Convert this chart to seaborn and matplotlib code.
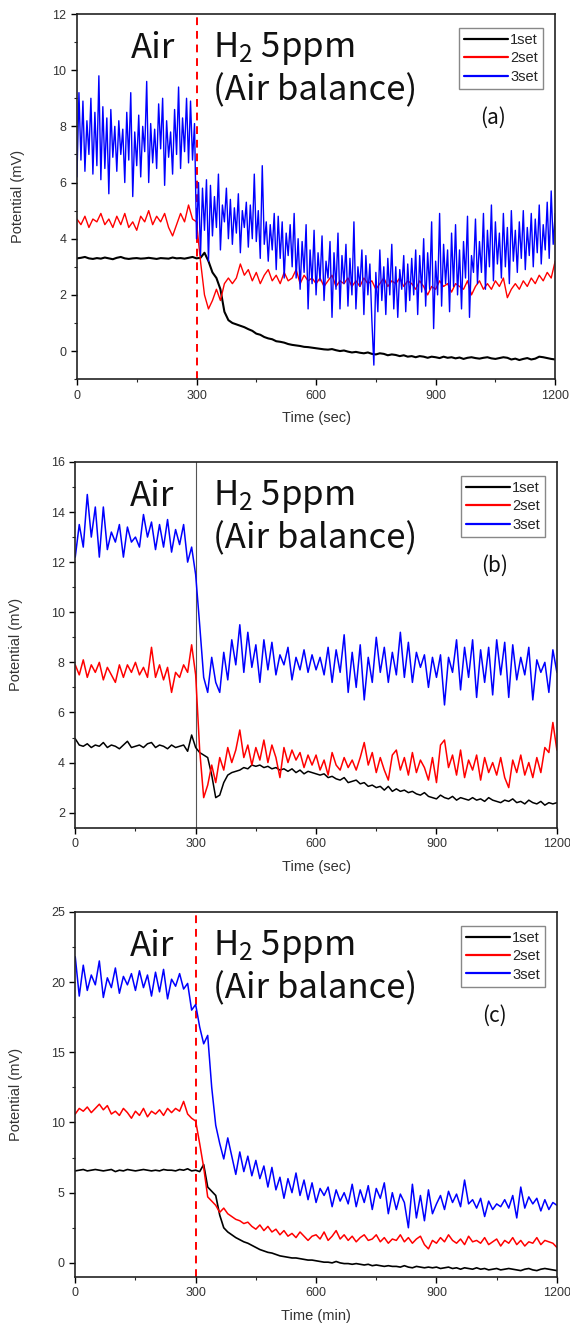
import numpy as np
import pandas as pd
import matplotlib.pyplot as plt
import matplotlib.ticker as mticker
import seaborn as sns

# ── Data ──────────────────────────────────────────────────────────────────────
TIME = np.arange(0, 1201, 10)        # 10 s grid for most series
TIME_FINE = np.arange(0, 1201, 5)    # 5 s grid for the noisy 3set in (a)

A_SET1 = [
    3.30, 3.32, 3.35, 3.30, 3.28, 3.31, 3.29, 3.33, 3.30, 3.27,
    3.32, 3.35, 3.30, 3.28, 3.30, 3.31, 3.29, 3.30, 3.32, 3.30,
    3.28, 3.31, 3.30, 3.29, 3.33, 3.30, 3.31, 3.29, 3.32, 3.35,
    3.30, 3.32, 3.50, 3.20, 2.80, 2.60, 2.20, 1.40, 1.10, 1.00,
    0.95, 0.90, 0.85, 0.78, 0.72, 0.62, 0.58, 0.50, 0.45, 0.42,
    0.35, 0.33, 0.30, 0.25, 0.22, 0.20, 0.18, 0.15, 0.14, 0.12,
    0.10, 0.08, 0.06, 0.05, 0.07, 0.03, 0.00, 0.02, -0.02, -0.05,
    -0.03, -0.06, -0.08, -0.05, -0.10, -0.12, -0.08, -0.10, -0.15, -0.12,
    -0.14, -0.18, -0.15, -0.20, -0.18, -0.22, -0.18, -0.20, -0.24, -0.20,
    -0.22, -0.25, -0.20, -0.24, -0.22, -0.26, -0.23, -0.28, -0.24, -0.22,
    -0.25, -0.27, -0.24, -0.22, -0.26, -0.28, -0.25, -0.22, -0.24, -0.30,
    -0.27, -0.32, -0.28, -0.25, -0.30, -0.27, -0.20, -0.22, -0.25, -0.28,
    -0.30,
]
A_SET2 = [
    4.70, 4.50, 4.80, 4.40, 4.70, 4.60, 4.90, 4.50, 4.70, 4.40,
    4.80, 4.50, 4.90, 4.40, 4.60, 4.30, 4.80, 4.60, 5.00, 4.50,
    4.80, 4.60, 4.90, 4.40, 4.10, 4.50, 4.90, 4.60, 5.20, 4.70,
    4.60, 3.20, 2.00, 1.50, 1.80, 2.20, 1.80, 2.40, 2.60, 2.40,
    2.60, 3.10, 2.70, 2.90, 2.50, 2.80, 2.40, 2.70, 2.90, 2.50,
    2.70, 2.40, 2.80, 2.50, 2.60, 2.90, 2.40, 2.70, 2.50, 2.60,
    2.40, 2.60, 2.30, 2.50, 2.70, 2.30, 2.50, 2.40, 2.60, 2.30,
    2.50, 2.30, 2.60, 2.40, 2.50, 2.20, 2.40, 2.60, 2.30, 2.50,
    2.40, 2.60, 2.30, 2.50, 2.40, 2.20, 2.50, 2.30, 2.00, 2.30,
    2.20, 2.50, 2.30, 2.40, 2.10, 2.40, 2.30, 2.20, 2.50, 2.00,
    2.30, 2.50, 2.20, 2.40, 2.20, 2.50, 2.30, 2.60, 1.90, 2.20,
    2.40, 2.20, 2.50, 2.30, 2.60, 2.40, 2.70, 2.50, 2.80, 2.60,
    3.20,
]
A_SET3 = [
    6.2, 9.2, 6.8, 8.9, 6.4, 8.2, 7.0, 9.0, 6.3, 8.5,
    6.6, 9.8, 6.1, 8.7, 6.5, 8.3, 5.6, 8.6, 6.9, 8.0,
    6.4, 8.2, 7.0, 7.9, 6.0, 8.5, 6.8, 9.2, 5.5, 7.8,
    6.6, 8.4, 6.2, 8.0, 7.1, 9.6, 6.0, 8.1, 6.7, 7.9,
    6.5, 8.8, 7.2, 9.0, 5.9, 8.2, 6.9, 7.8, 6.3, 8.6,
    7.0, 9.4, 6.5, 8.3, 7.1, 9.0, 6.7, 8.9, 6.8, 8.1,
    4.0, 6.0, 3.4, 5.8, 4.3, 6.1, 3.2, 5.9, 4.1, 5.5,
    4.4, 6.3, 3.6, 5.2, 4.6, 5.8, 4.0, 5.4, 3.8, 5.1,
    4.2, 5.6, 3.5, 5.0, 4.4, 5.3, 3.7, 5.2, 4.0, 6.3,
    3.9, 5.0, 3.3, 6.6, 3.8, 4.6, 3.2, 4.5, 3.6, 4.9,
    2.9, 4.8, 3.3, 4.6, 2.6, 4.2, 3.4, 4.5, 3.0, 4.9,
    2.6, 4.0, 2.2, 3.9, 2.8, 4.5, 1.5, 3.6, 2.4, 4.3,
    2.0, 3.5, 2.5, 4.1, 1.8, 3.2, 2.6, 3.9, 1.2, 3.5,
    2.2, 4.2, 1.5, 3.4, 2.4, 3.8, 1.6, 3.3, 2.0, 4.6,
    1.5, 3.0, 2.3, 3.6, 1.3, 3.4, 2.0, 3.1, 1.1, -0.5,
    2.8, 1.4, 3.6, 1.8, 3.0, 1.3, 3.3, 2.0, 3.8, 1.5,
    3.0, 1.2, 2.9, 2.2, 3.4, 1.4, 3.1, 1.8, 3.3, 2.0,
    3.6, 1.3, 3.4, 2.1, 4.0, 1.6, 3.5, 2.2, 4.6, 0.8,
    3.2, 2.0, 4.9, 1.6, 3.8, 2.4, 3.6, 1.4, 4.2, 2.3,
    4.5, 2.0, 3.6, 1.5, 3.9, 2.6, 4.8, 1.2, 3.4, 2.8,
    4.7, 2.4, 3.9, 2.8, 4.9, 2.2, 4.3, 3.0, 5.2, 2.5,
    4.6, 3.1, 4.2, 2.6, 4.9, 3.0, 4.4, 2.4, 5.0, 3.2,
    4.3, 2.8, 4.6, 3.3, 5.0, 2.9, 4.4, 3.4, 4.9, 3.0,
    4.7, 3.5, 5.2, 3.1, 4.5, 3.6, 5.3, 3.3, 5.7, 3.8,
    4.9,
]

B_SET1 = [
    4.95, 4.70, 4.65, 4.75, 4.60, 4.70, 4.65, 4.80, 4.60, 4.70,
    4.65, 4.55, 4.70, 4.85, 4.60, 4.65, 4.70, 4.60, 4.75, 4.80,
    4.60, 4.70, 4.65, 4.55, 4.70, 4.60, 4.65, 4.70, 4.45, 5.10,
    4.60, 4.40, 4.30, 4.20, 3.50, 2.60, 2.70, 3.20, 3.50, 3.60,
    3.65, 3.70, 3.80, 3.75, 3.90, 3.85, 3.90, 3.80, 3.85, 3.75,
    3.80, 3.70, 3.75, 3.65, 3.75, 3.60, 3.70, 3.55, 3.65, 3.60,
    3.55, 3.50, 3.55, 3.40, 3.45, 3.35, 3.30, 3.40, 3.20, 3.25,
    3.30, 3.15, 3.20, 3.05, 3.10, 3.00, 3.05, 2.90, 3.05, 2.85,
    2.95, 2.85, 2.90, 2.80, 2.85, 2.75, 2.70, 2.80, 2.65, 2.60,
    2.55, 2.70, 2.60, 2.55, 2.65, 2.50, 2.60, 2.55, 2.50, 2.60,
    2.50, 2.55, 2.45, 2.60, 2.50, 2.45, 2.40, 2.50, 2.45, 2.55,
    2.40, 2.45, 2.35, 2.50, 2.40, 2.35, 2.45, 2.30, 2.40, 2.35,
    2.40,
]
B_SET2 = [
    7.90, 7.50, 8.10, 7.40, 7.90, 7.60, 8.00, 7.30, 7.80, 7.50,
    7.20, 7.90, 7.40, 7.90, 7.60, 8.00, 7.50, 7.80, 7.40, 8.60,
    7.40, 7.90, 7.30, 7.80, 6.80, 7.60, 7.40, 7.90, 7.60, 8.70,
    7.50, 4.50, 2.60, 3.10, 3.90, 3.20, 4.20, 3.70, 4.60, 4.00,
    4.50, 5.30, 4.20, 4.70, 3.90, 4.60, 4.10, 4.90, 4.00, 4.70,
    4.20, 3.40, 4.60, 4.00, 4.50, 4.10, 4.40, 3.80, 4.30, 3.90,
    4.30, 3.70, 4.10, 3.50, 4.40, 3.90, 3.70, 4.20, 3.80, 4.10,
    3.70, 4.20, 4.80, 3.90, 4.40, 3.60, 4.20, 3.70, 3.30, 4.30,
    4.50, 3.70, 4.20, 3.50, 4.40, 3.60, 4.10, 3.80, 3.30, 4.20,
    3.20, 4.70, 4.90, 3.80, 4.30, 3.50, 4.50, 3.40, 4.10, 3.70,
    4.30, 3.30, 4.20, 3.60, 4.00, 3.50, 4.20, 3.40, 3.00, 4.10,
    3.60, 4.30, 3.50, 4.00, 3.40, 4.20, 3.60, 4.60, 4.40, 5.60,
    4.50,
]
B_SET3 = [
    12.2, 13.5, 12.6, 14.7, 13.0, 14.2, 12.2, 14.2, 12.5, 13.2,
    12.8, 13.5, 12.2, 13.4, 12.8, 13.0, 12.6, 13.9, 13.0, 13.6,
    12.5, 13.5, 12.6, 13.7, 12.4, 13.3, 12.7, 13.5, 12.0, 12.6,
    11.5, 9.5, 7.4, 6.8, 8.2, 7.2, 6.8, 8.4, 7.3, 8.9,
    7.9, 9.5, 7.6, 9.2, 7.8, 8.7, 7.2, 8.9, 7.7, 8.8,
    7.5, 8.3, 7.9, 8.6, 7.3, 8.2, 7.7, 8.5, 7.6, 8.3,
    7.7, 8.2, 7.5, 8.6, 7.2, 8.5, 7.6, 9.1, 6.8, 8.4,
    7.0, 8.7, 6.5, 8.2, 7.2, 9.0, 7.6, 8.6, 7.2, 8.4,
    7.5, 9.2, 7.4, 8.8, 7.2, 8.4, 7.8, 8.3, 7.0, 8.2,
    7.4, 8.3, 6.3, 8.2, 7.6, 8.9, 6.9, 8.6, 7.4, 8.9,
    6.6, 8.5, 7.2, 8.6, 6.7, 8.9, 7.5, 8.8, 6.6, 8.7,
    7.3, 8.2, 7.5, 8.6, 6.5, 8.1, 7.6, 8.0, 6.8, 8.5,
    7.6,
]

C_SET1 = [
    6.55, 6.60, 6.65, 6.55, 6.60, 6.65, 6.60, 6.55, 6.60, 6.65,
    6.50, 6.60, 6.55, 6.65, 6.60, 6.55, 6.60, 6.65, 6.60, 6.55,
    6.60, 6.55, 6.65, 6.60, 6.60, 6.55, 6.65, 6.60, 6.70, 6.55,
    6.60, 6.50, 7.00, 5.40, 5.10, 4.80, 3.40, 2.50, 2.20, 2.00,
    1.80, 1.65, 1.50, 1.40, 1.25, 1.10, 0.95, 0.85, 0.75, 0.70,
    0.60, 0.50, 0.45, 0.40, 0.35, 0.35, 0.30, 0.25, 0.20, 0.20,
    0.15, 0.10, 0.05, 0.05, 0.00, 0.10, 0.00, -0.05, -0.05, -0.10,
    -0.05, -0.10, -0.15, -0.10, -0.20, -0.15, -0.20, -0.25, -0.20, -0.25,
    -0.25, -0.30, -0.20, -0.30, -0.35, -0.25, -0.30, -0.35, -0.30, -0.35,
    -0.30, -0.40, -0.35, -0.30, -0.40, -0.35, -0.45, -0.35, -0.40, -0.45,
    -0.35, -0.45, -0.40, -0.50, -0.45, -0.40, -0.50, -0.45, -0.40, -0.45,
    -0.50, -0.55, -0.45, -0.40, -0.50, -0.55, -0.45, -0.40, -0.45, -0.50,
    -0.55,
]
C_SET2 = [
    10.6, 11.0, 10.8, 11.1, 10.7, 11.0, 11.3, 10.9, 11.2, 10.6,
    10.8, 10.5, 11.0, 10.7, 10.3, 10.8, 10.5, 11.0, 10.4, 10.8,
    10.6, 10.9, 10.5, 11.0, 10.7, 11.0, 10.8, 11.5, 10.6, 10.3,
    10.1, 8.5, 6.8, 4.7, 4.4, 4.1, 3.6, 3.9, 3.5, 3.3,
    3.1, 3.0, 2.8, 2.9, 2.6, 2.4, 2.7, 2.3, 2.6, 2.2,
    2.4, 2.0, 2.3, 1.9, 2.1, 1.8, 2.2, 1.9, 1.6, 1.9,
    2.0, 1.7, 2.2, 1.6, 1.9, 2.3, 1.7, 2.0, 1.6, 1.9,
    1.5, 1.8, 2.0, 1.6, 1.7, 2.0, 1.5, 1.8, 1.4, 1.7,
    1.6, 2.0, 1.5, 1.8, 1.4, 1.7, 1.9, 1.3, 1.0, 1.6,
    1.4, 1.8, 1.5, 2.0, 1.6, 1.4, 1.7, 1.3, 1.9, 1.5,
    1.6, 1.4, 1.8, 1.3, 1.5, 1.7, 1.2, 1.6, 1.4, 1.8,
    1.3, 1.6, 1.2, 1.5, 1.4, 1.8, 1.3, 1.6, 1.5, 1.4,
    1.1,
]
C_SET3 = [
    21.8, 19.0, 21.2, 19.4, 20.5, 19.8, 21.5, 18.9, 20.3, 19.6,
    21.0, 19.2, 20.4, 19.8, 20.6, 19.4, 20.8, 19.6, 20.5, 19.0,
    20.7, 19.3, 20.9, 18.8, 20.2, 19.7, 20.6, 19.5, 19.9, 18.0,
    18.4, 16.8, 15.6, 16.2, 12.5, 9.8, 8.5, 7.4, 8.9, 7.6,
    6.3, 7.9, 6.5, 7.6, 6.2, 7.3, 6.0, 6.9, 5.4, 6.8,
    5.2, 6.1, 4.6, 6.0, 5.0, 6.4, 4.8, 5.9, 4.5, 5.7,
    4.3, 5.3, 4.8, 5.4, 4.0, 5.2, 4.4, 5.0, 4.2, 5.6,
    4.0, 5.2, 4.3, 5.5, 3.8, 5.3, 4.6, 5.7, 3.5, 5.0,
    3.8, 4.9, 4.3, 2.5, 5.6, 3.2, 4.8, 3.0, 5.2, 3.5,
    4.2, 4.8, 3.8, 5.1, 4.3, 4.9, 4.0, 5.9, 4.2, 4.5,
    3.9, 4.6, 3.3, 4.4, 3.8, 4.2, 4.0, 4.5, 3.9, 4.8,
    3.2, 5.4, 3.9, 4.7, 4.2, 4.6, 3.7, 4.5, 3.8, 4.3,
    4.1,
]

SET_LABELS = ["1set", "2set", "3set"]
SET_COLORS = {"1set": "black", "2set": "red", "3set": "blue"}

# ── Style ─────────────────────────────────────────────────────────────────────
sns.set_theme(style="ticks")
plt.rcParams["font.family"] = ["Liberation Sans", "DejaVu Sans"]
plt.rcParams["mathtext.fontset"] = "custom"
plt.rcParams["mathtext.rm"] = "Noto Sans CJK KR"
plt.rcParams["mathtext.it"] = "Noto Sans CJK KR"
ANNOT_FONT = ["Noto Sans CJK KR", "DejaVu Sans"]
BIG = 25

PANELS = [
    dict(t=[TIME, TIME, TIME_FINE], y=[A_SET1, A_SET2, A_SET3],
         lw=[1.5, 1.0, 1.0], xlabel="Time (sec)", ylim=(-1, 12),
         major=2, minor=1, vline="red_dash", tag="(a)",
         rect=[0.135, 0.716, 0.839, 0.2735]),
    dict(t=[TIME, TIME, TIME], y=[B_SET1, B_SET2, B_SET3],
         lw=[1.1, 1.1, 1.1], xlabel="Time (sec)", ylim=(1.4, 16),
         major=2, minor=1, vline="thin_black", tag="(b)",
         rect=[0.132, 0.380, 0.845, 0.274]),
    dict(t=[TIME, TIME, TIME], y=[C_SET1, C_SET2, C_SET3],
         lw=[1.2, 1.1, 1.1], xlabel="Time (min)", ylim=(-1, 25),
         major=5, minor=2.5, vline="red_dash", tag="(c)",
         rect=[0.132, 0.0435, 0.845, 0.2735]),
]

fig = plt.figure(figsize=(5.70, 13.35), dpi=100)

for p in PANELS:
    ax = fig.add_axes(p["rect"])
    for lab, tt, yy, lw in zip(SET_LABELS, p["t"], p["y"], p["lw"]):
        df = pd.DataFrame({"t": tt, "v": yy})
        sns.lineplot(data=df, x="t", y="v", color=SET_COLORS[lab], lw=lw,
                     estimator=None, label=lab, ax=ax)

    if p["vline"] == "red_dash":
        ax.axvline(300, color="red", ls=(0, (4, 3)), lw=1.4, zorder=0.5)
    else:
        ax.axvline(300, color="#555555", ls="-", lw=0.8, zorder=0.5)

    ax.set_xlim(0, 1200)
    ax.set_ylim(*p["ylim"])
    ax.xaxis.set_major_locator(mticker.MultipleLocator(300))
    ax.xaxis.set_minor_locator(mticker.MultipleLocator(150))
    ax.yaxis.set_major_locator(mticker.MultipleLocator(p["major"]))
    ax.yaxis.set_minor_locator(mticker.MultipleLocator(p["minor"]))
    ax.tick_params(which="major", direction="out", length=4, width=1,
                   labelsize=9, colors="black", labelcolor="#333333")
    ax.tick_params(which="minor", direction="out", length=2.5, width=0.8)
    for s in ax.spines.values():
        s.set_linewidth(1.2)
        s.set_color("#222222")

    ax.set_xlabel(p["xlabel"], fontsize=10.5, color="#333333", labelpad=7)
    ax.set_ylabel("Potential (mV)", fontsize=10.5, color="#333333")
    ax.yaxis.set_label_coords(-0.108, 0.5)

    # annotation text
    ax.text(0.16, 0.905, "Air", transform=ax.transAxes, fontsize=BIG,
            family=ANNOT_FONT, ha="center", va="center", color="#111111")
    ax.text(0.285, 0.905, r"H$_\mathrm{2}$ 5ppm", transform=ax.transAxes,
            fontsize=BIG, family=ANNOT_FONT, ha="left", va="center",
            color="#111111")
    ax.text(0.285, 0.79, "(Air balance)", transform=ax.transAxes,
            fontsize=BIG, family=ANNOT_FONT, ha="left", va="center",
            color="#111111")
    ax.text(0.87, 0.715, p["tag"], transform=ax.transAxes, fontsize=15,
            family=ANNOT_FONT, ha="center", va="center", color="#111111")

    leg = ax.legend(loc="upper right", bbox_to_anchor=(0.975, 0.962),
                    borderaxespad=0, fontsize=10.5, frameon=True,
                    fancybox=False, framealpha=1, edgecolor="#888888",
                    handlelength=3.0, handletextpad=0.15, labelspacing=0.3,
                    borderpad=0.35)
    leg.get_frame().set_linewidth(1.0)
    for h in leg.get_lines():
        h.set_linewidth(1.6)

fig.savefig("out.png", dpi=100)
